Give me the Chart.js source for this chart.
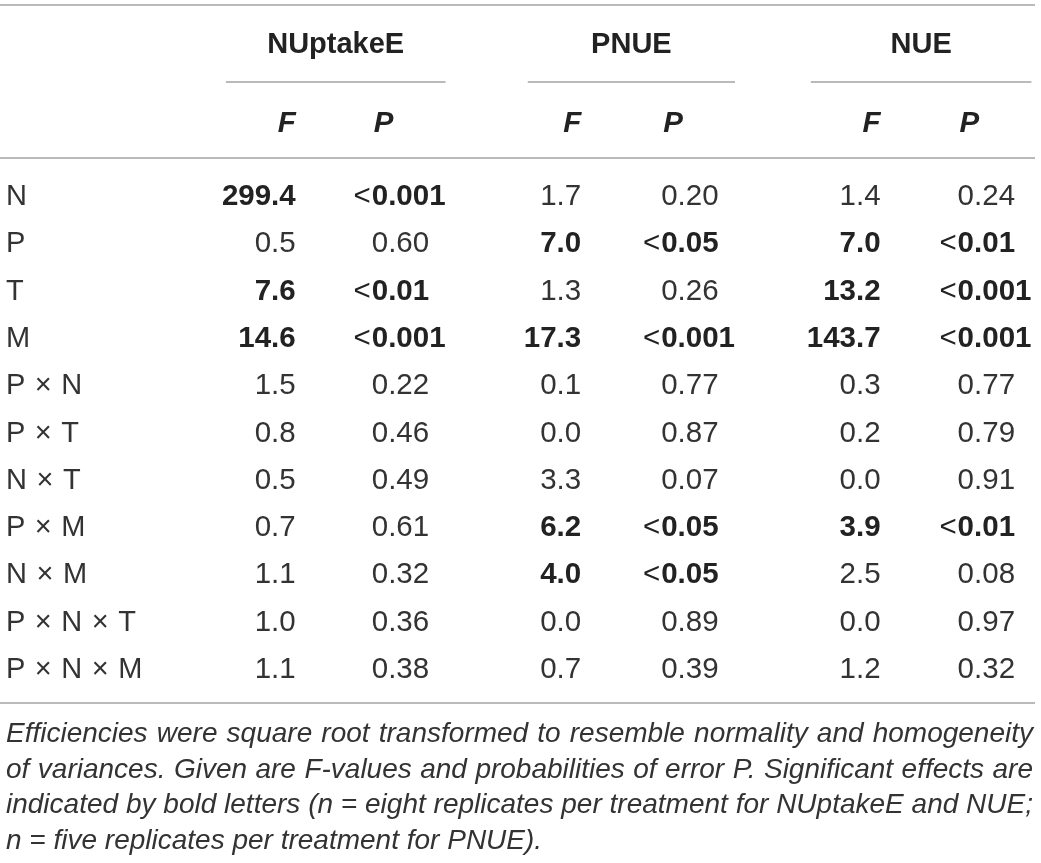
<!DOCTYPE html>
<html>
<head>
<meta charset="utf-8">
<script src="https://cdn.jsdelivr.net/npm/chart.js@4/dist/chart.umd.min.js"></script>
<style>
  html, body { margin: 0; padding: 0; background: #fff; }
  #wrap { width: 1041px; height: 863px; }
</style>
</head>
<body>
<div id="wrap"><canvas id="anovaTable" width="1041" height="863"></canvas></div>
<script>
// table content
const groups = ['NUptakeE', 'PNUE', 'NUE'];
const effects = ['N', 'P', 'T', 'M', 'P × N', 'P × T', 'N × T', 'P × M', 'N × M', 'P × N × T', 'P × N × M'];

const fNUptakeE = [299.4, 0.5, 7.6, 14.6, 1.5, 0.8, 0.5, 0.7, 1.1, 1.0, 1.1];
const pNUptakeE = ['<0.001', '0.60', '<0.01', '<0.001', '0.22', '0.46', '0.49', '0.61', '0.32', '0.36', '0.38'];
const fPNUE = [1.7, 7.0, 1.3, 17.3, 0.1, 0.0, 3.3, 6.2, 4.0, 0.0, 0.7];
const pPNUE = ['0.20', '<0.05', '0.26', '<0.001', '0.77', '0.87', '0.07', '<0.05', '<0.05', '0.89', '0.39'];
const fNUE = [1.4, 7.0, 13.2, 143.7, 0.3, 0.2, 0.0, 3.9, 2.5, 0.0, 1.2];
const pNUE = ['0.24', '<0.01', '<0.001', '<0.001', '0.77', '0.79', '0.91', '<0.01', '0.08', '0.97', '0.32'];

const subHeads = ['F', 'P'];
const captionLines = [
  'Efficiencies were square root transformed to resemble normality and homogeneity',
  'of variances. Given are F-values and probabilities of error P. Significant effects are',
  'indicated by bold letters (n = eight replicates per treatment for NUptakeE and NUE;',
  'n = five replicates per treatment for PNUE).'
];

const fCols = [fNUptakeE, fPNUE, fNUE];
const pCols = [pNUptakeE, pPNUE, pNUE];

const FONT = '"Liberation Sans", Arial, Helvetica, sans-serif';

// draws the cells at the points the scales give, plus rules, headers and note
const tablePlugin = {
  id: 'tableText',
  afterDatasetsDraw(chart, args, o) {
    const ctx = chart.ctx;
    const yS = chart.scales.y;
    ctx.save();
    ctx.textBaseline = 'alphabetic';

    // row labels (tokens spaced a bit wider round the ×)
    ctx.fillStyle = o.color;
    ctx.font = `${o.labelSize}px ${FONT}`;
    ctx.textAlign = 'left';
    effects.forEach((lab, i) => {
      let lx = o.labelX;
      lab.split(' ').forEach(tok => {
        ctx.fillText(tok, lx, yS.getPixelForValue(i) + o.capShift);
        lx += ctx.measureText(tok).width + o.labelGap;
      });
    });

    const spans = [];
    chart.data.datasets.forEach((ds, gi) => {
      const meta = chart.getDatasetMeta(gi);
      const fx = meta.data[0].x + o.fOffset[gi];
      const px = meta.data[0].x + o.pOffset[gi];
      let left = Infinity, right = -Infinity;
      meta.data.forEach((pt, i) => {
        const raw = ds.data[i];
        const sig = raw.p.startsWith('<');
        const by = pt.y + o.capShift;
        // F value
        ctx.font = `${sig ? 'bold ' : ''}${o.size}px ${FONT}`;
        ctx.fillStyle = sig ? o.boldColor : o.color;
        ctx.textAlign = 'right';
        const fTxt = raw.f.toFixed(1);
        ctx.fillText(fTxt, fx, by);
        left = Math.min(left, fx - ctx.measureText(fTxt).width);
        // P value
        let pTxt = raw.p;
        if (sig) {
          ctx.font = `${o.size}px ${FONT}`;
          ctx.textAlign = 'right';
          ctx.fillText('<', px - 1, by);
          pTxt = pTxt.slice(1);
          ctx.font = `bold ${o.size}px ${FONT}`;
        }
        ctx.textAlign = 'left';
        ctx.fillText(pTxt, px, by);
        right = Math.max(right, px + ctx.measureText(pTxt).width);
      });
      spans.push({ left, right, fx, px });
    });

    // group headers + underline + F / P
    spans.forEach((s, gi) => {
      ctx.fillStyle = o.boldColor;
      ctx.font = `bold ${o.headSize}px ${FONT}`;
      ctx.textAlign = 'center';
      ctx.fillText(groups[gi], (s.left + s.right) / 2 + 2, o.groupY);
      ctx.font = `italic bold ${o.size}px ${FONT}`;
      ctx.textAlign = 'right';
      ctx.fillText(subHeads[0], s.fx, o.subY);
      ctx.textAlign = 'left';
      ctx.fillText(subHeads[1], s.px + 2, o.subY);
      ctx.strokeStyle = o.ruleColor;
      ctx.lineWidth = o.ruleWidth;
      ctx.beginPath();
      ctx.moveTo(s.left + 4, o.underY);
      ctx.lineTo(s.right, o.underY);
      ctx.stroke();
    });

    // full-width rules
    ctx.strokeStyle = o.ruleColor;
    ctx.lineWidth = o.ruleWidth;
    const bottomRule = yS.bottom + o.bottomGap;
    [o.topY, o.midY, bottomRule].forEach(yy => {
      ctx.beginPath();
      ctx.moveTo(0, yy);
      ctx.lineTo(o.ruleRight, yy);
      ctx.stroke();
    });

    // justified italic note
    ctx.fillStyle = o.color;
    ctx.font = `italic ${o.noteSize}px ${FONT}`;
    ctx.textAlign = 'left';
    const W = o.noteRight - o.noteLeft;
    captionLines.forEach((line, li) => {
      const by = o.noteY + li * o.noteStep;
      const words = line.split(' ');
      const ww = words.map(w => ctx.measureText(w).width);
      const sum = ww.reduce((a, b) => a + b, 0);
      const sp = ctx.measureText(' ').width;
      const last = li === captionLines.length - 1;
      let gap = last ? sp : (W - sum) / (words.length - 1);
      let sx = 1;
      if (gap < sp * 0.75) {
        gap = sp * 0.75;
        sx = W / (sum + gap * (words.length - 1));
      }
      ctx.save();
      ctx.translate(o.noteLeft, by);
      ctx.scale(sx, 1);
      let cx = 0;
      words.forEach((w, k) => {
        ctx.fillText(w, cx, 0);
        cx += ww[k] + gap;
      });
      ctx.restore();
    });

    ctx.restore();
  }
};

const datasets = groups.map((g, gi) => ({
  label: g,
  data: effects.map((e, i) => ({ x: gi, y: e, f: fCols[gi][i], p: pCols[gi][i] })),
  pointRadius: 0,
  pointHoverRadius: 0,
  showLine: false
}));

new Chart(document.getElementById('anovaTable').getContext('2d'), {
  type: 'scatter',
  data: { datasets },
  options: {
    responsive: false,
    maintainAspectRatio: false,
    animation: false,
    events: [],
    layout: { padding: { left: 190, right: 0, top: 171, bottom: 172 } },
    scales: {
      x: { type: 'linear', min: -0.5, max: 2.4, display: false },
      y: { type: 'category', labels: effects, offset: true, display: false }
    },
    plugins: {
      legend: { display: false },
      tooltip: { enabled: false },
      tableText: {
        color: '#333',
        boldColor: '#222',
        ruleColor: '#a3a3a3',
        ruleWidth: 1.5,
        size: 29.5,
        labelSize: 29,
        labelGap: 9.5,
        headSize: 29,
        capShift: 10.5,
        labelX: 6,
        fOffset: [-41, -49, -43],
        pOffset: [35, 31, 34],
        groupY: 53,
        subY: 132,
        underY: 82,
        topY: 5,
        midY: 158,
        bottomGap: 12,
        ruleRight: 1035,
        noteSize: 28,
        noteLeft: 6,
        noteRight: 1033,
        noteY: 742,
        noteStep: 35.7
      }
    }
  },
  plugins: [tablePlugin]
});
</script>
</body>
</html>
